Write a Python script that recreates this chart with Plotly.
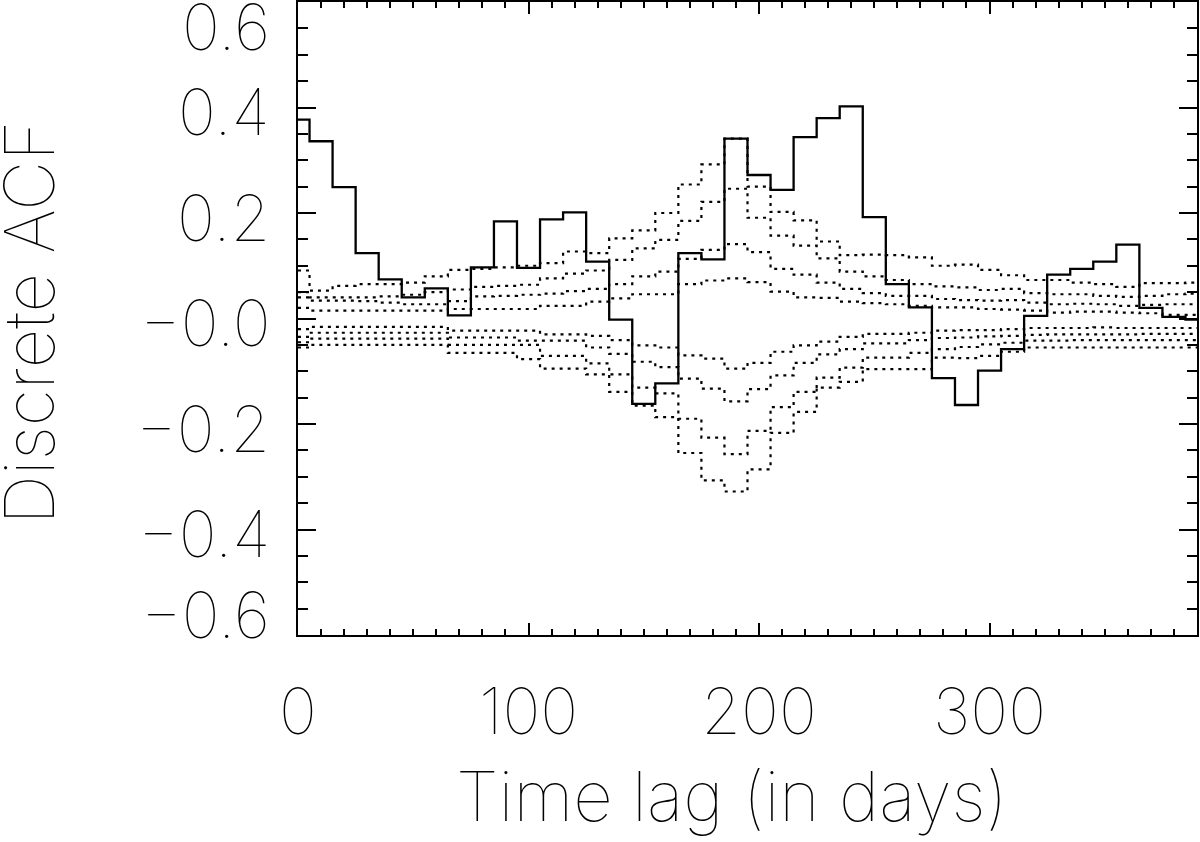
import plotly.graph_objects as go

# ---------------- data ----------------
lags = list(range(0, 400, 10))  # time lag in days

acf = [0.377, 0.336, 0.249, 0.124, 0.074, 0.040, 0.057, 0.006, 0.097, 0.184,
       0.096, 0.188, 0.201, 0.108, -0.002, -0.162, -0.123, 0.124, 0.112, 0.341,
       0.272, 0.244, 0.344, 0.380, 0.402, 0.192, 0.065, 0.021, -0.113, -0.164,
       -0.099, -0.058, 0.005, 0.083, 0.094, 0.108, 0.140, 0.020, 0.003, -0.002]

upper_4 = [0.091, 0.053, 0.062, 0.065, 0.065, 0.068, 0.080, 0.092, 0.094, 0.097,
           0.100, 0.105, 0.127, 0.124, 0.152, 0.167, 0.200, 0.254, 0.292, 0.341,
           0.250, 0.202, 0.186, 0.146, 0.120, 0.121, 0.120, 0.116, 0.100, 0.102,
           0.092, 0.082, 0.073, 0.073, 0.068, 0.065, 0.060, 0.067, 0.067, 0.068]

upper_3 = [0.050, 0.040, 0.040, 0.040, 0.042, 0.045, 0.050, 0.055, 0.060, 0.062,
           0.064, 0.076, 0.085, 0.091, 0.111, 0.133, 0.149, 0.185, 0.221, 0.246,
           0.191, 0.157, 0.138, 0.114, 0.089, 0.080, 0.073, 0.065, 0.061, 0.059,
           0.054, 0.056, 0.048, 0.046, 0.046, 0.043, 0.041, 0.043, 0.046, 0.047]

upper_2 = [0.040, 0.034, 0.034, 0.033, 0.030, 0.027, 0.027, 0.033, 0.042, 0.043,
           0.045, 0.047, 0.052, 0.056, 0.065, 0.080, 0.089, 0.113, 0.130, 0.141,
           0.126, 0.094, 0.083, 0.068, 0.056, 0.048, 0.043, 0.043, 0.037, 0.035,
           0.034, 0.035, 0.030, 0.027, 0.028, 0.027, 0.024, 0.026, 0.027, 0.027]

upper_1 = [0.020, 0.015, 0.015, 0.015, 0.015, 0.015, 0.015, 0.018, 0.018, 0.018,
           0.018, 0.024, 0.024, 0.032, 0.038, 0.046, 0.046, 0.065, 0.072, 0.076,
           0.069, 0.051, 0.040, 0.039, 0.032, 0.029, 0.027, 0.024, 0.021, 0.021,
           0.018, 0.017, 0.015, 0.011, 0.013, 0.013, 0.011, 0.010, 0.007, 0.007]

lower_1 = [-0.020, -0.016, -0.016, -0.016, -0.016, -0.016, -0.016, -0.023, -0.023, -0.023,
           -0.023, -0.030, -0.030, -0.033, -0.041, -0.051, -0.055, -0.070, -0.076, -0.095,
           -0.084, -0.063, -0.051, -0.044, -0.035, -0.029, -0.029, -0.027, -0.023, -0.022,
           -0.022, -0.020, -0.018, -0.018, -0.018, -0.017, -0.018, -0.018, -0.018, -0.018]

lower_2 = [-0.035, -0.027, -0.027, -0.027, -0.027, -0.027, -0.027, -0.036, -0.036, -0.036,
           -0.042, -0.042, -0.042, -0.055, -0.067, -0.082, -0.092, -0.114, -0.133, -0.157,
           -0.134, -0.108, -0.084, -0.068, -0.058, -0.047, -0.047, -0.041, -0.037, -0.036,
           -0.034, -0.033, -0.031, -0.030, -0.030, -0.030, -0.030, -0.029, -0.029, -0.029]

lower_3 = [-0.045, -0.038, -0.038, -0.038, -0.038, -0.038, -0.038, -0.050, -0.050, -0.050,
           -0.050, -0.071, -0.071, -0.085, -0.106, -0.131, -0.142, -0.190, -0.226, -0.257,
           -0.213, -0.168, -0.139, -0.112, -0.093, -0.074, -0.074, -0.065, -0.058, -0.054,
           -0.049, -0.046, -0.042, -0.042, -0.041, -0.041, -0.041, -0.041, -0.041, -0.041]

lower_4 = [-0.055, -0.050, -0.050, -0.050, -0.050, -0.050, -0.050, -0.065, -0.065, -0.065,
           -0.077, -0.095, -0.095, -0.106, -0.139, -0.165, -0.187, -0.255, -0.307, -0.328,
           -0.286, -0.217, -0.177, -0.131, -0.120, -0.096, -0.096, -0.096, -0.074, -0.075,
           -0.071, -0.063, -0.055, -0.055, -0.055, -0.055, -0.055, -0.055, -0.055, -0.055]

x_tick_vals = [0, 100, 200, 300]
x_tick_text = ["0", "100", "200", "300"]
y_tick_vals = [0.6, 0.4, 0.2, 0.0, -0.2, -0.4, -0.6]
y_tick_text = ["0.6", "0.4", "0.2", "\u22120.0", "\u22120.2", "\u22120.4", "\u22120.6"]

x_title = "Time lag (in days)"
y_title = "Discrete ACF"

# ---------------- figure ----------------
FONT = "Inter"
WEIGHT = 100
W, H = 1200, 842
ML, MR, MT, MB = 298, 3, 2, 207

fig = go.Figure()

for band in [upper_4, upper_3, upper_2, upper_1, lower_1, lower_2, lower_3, lower_4]:
    fig.add_trace(go.Scatter(
        x=lags, y=band, mode="lines",
        line=dict(color="black", width=2.2, dash="3px,5px", shape="hvh"),
        hoverinfo="skip", showlegend=False))

fig.add_trace(go.Scatter(
    x=lags, y=acf, mode="lines",
    line=dict(color="black", width=2.3, shape="hvh"),
    hoverinfo="skip", showlegend=False))

# y tick labels as annotations (extreme labels sit inside the frame like the original)
y_label_shift = {0.6: -24, -0.6: 21}
annotations = []
for v, t in zip(y_tick_vals, y_tick_text):
    annotations.append(dict(
        x=0, xref="paper", y=v, yref="y", text=t, showarrow=False,
        xanchor="right", yanchor="middle", xshift=-26,
        yshift=y_label_shift.get(v, -4),
        font=dict(family=FONT, size=64, color="black", weight=WEIGHT)))

annotations.append(dict(
    x=0.5, xref="paper", y=0, yref="paper", text=x_title, showarrow=False,
    xanchor="center", yanchor="middle", xshift=-16, yshift=-161,
    font=dict(family=FONT, size=69, color="black", weight=WEIGHT)))

annotations.append(dict(
    x=0, xref="paper", y=0.5, yref="paper", text=y_title, showarrow=False,
    textangle=-90, xanchor="center", yanchor="middle", xshift=-270, yshift=-4,
    font=dict(family=FONT, size=69, color="black", weight=WEIGHT)))

fig.update_layout(
    width=W, height=H,
    margin=dict(l=ML, r=MR, t=MT, b=MB, autoexpand=False),
    paper_bgcolor="white", plot_bgcolor="white",
    showlegend=False,
    annotations=annotations,
    xaxis=dict(
        range=[0, 390], showgrid=False, zeroline=False,
        showline=True, linecolor="black", linewidth=2, mirror="allticks",
        ticks="inside", ticklen=12, tickwidth=2, tickcolor="black",
        tickmode="array", tickvals=x_tick_vals, ticktext=x_tick_text,
        tickfont=dict(family=FONT, size=64, color="black", weight=WEIGHT),
        ticklabelstandoff=20,
        minor=dict(ticks="inside", ticklen=6, tickwidth=2, tickcolor="black",
                   tickmode="array", tickvals=list(range(0, 391, 10)), showgrid=False),
    ),
    yaxis=dict(
        range=[-0.6, 0.6], showgrid=False, zeroline=False,
        showline=True, linecolor="black", linewidth=2, mirror="allticks",
        ticks="inside", ticklen=18, tickwidth=2, tickcolor="black",
        tickmode="array", tickvals=y_tick_vals, showticklabels=False,
        minor=dict(ticks="inside", ticklen=10, tickwidth=2, tickcolor="black",
                   tickmode="array",
                   tickvals=[round(-0.6 + 0.05 * i, 2) for i in range(25)],
                   showgrid=False),
    ),
)

fig.write_html("out.html", config={"displayModeBar": False},
               post_script="document.body.style.margin='0';document.body.style.padding='0';")
